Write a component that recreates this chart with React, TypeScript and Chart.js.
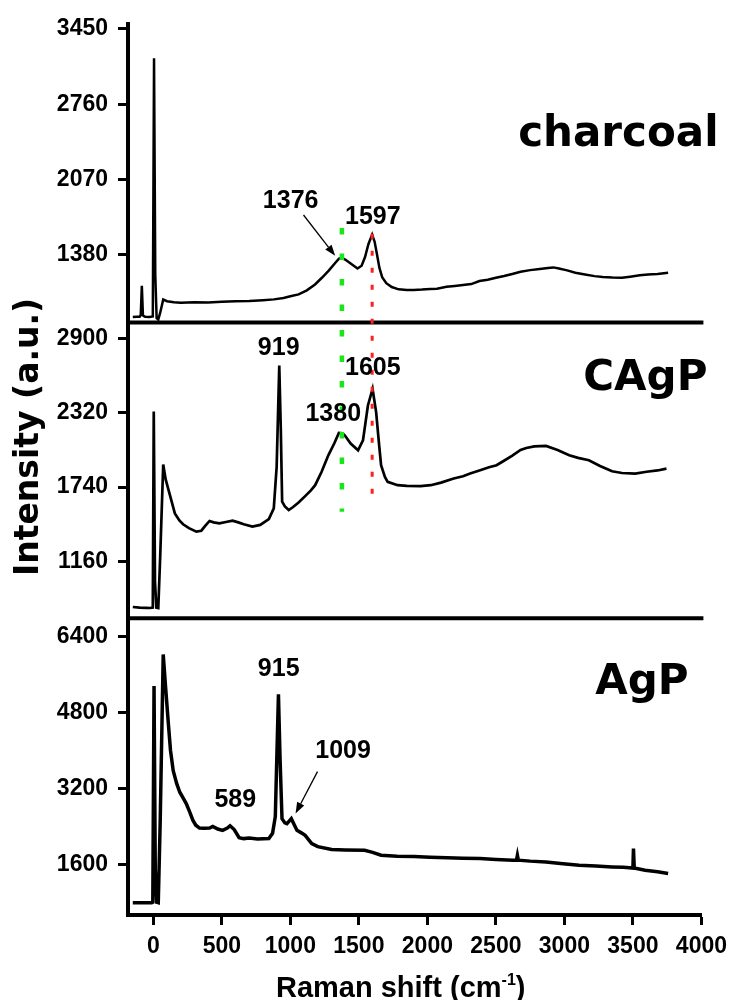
import React, { useEffect, useRef } from 'react';
import { Chart, registerables } from 'chart.js';

Chart.register(...registerables);

// ---------- tick labels ----------
const X_TICKS = [0, 500, 1000, 1500, 2000, 2500, 3000, 3500, 4000];
const Y1_TICKS = [1380, 2070, 2760, 3450];
const Y2_TICKS = [1160, 1740, 2320, 2900];
const Y3_TICKS = [1600, 3200, 4800, 6400];

// ---------- charcoal spectrum ----------
const CHARCOAL_X = [-150, -120, -100, -92, -84, -76, -60, -30, -4, 5, 14, 24, 36, 50, 72, 100, 150, 200, 300, 400, 500, 600, 700, 800, 880, 950, 1000, 1060, 1120, 1180, 1230, 1280, 1330, 1355, 1376, 1400, 1440, 1490, 1520, 1545, 1570, 1597, 1615, 1630, 1650, 1670, 1700, 1740, 1790, 1850, 1900, 1960, 2020, 2070, 2140, 2200, 2260, 2320, 2380, 2440, 2500, 2560, 2620, 2680, 2750, 2820, 2880, 2920, 2960, 3020, 3080, 3150, 3220, 3280, 3350, 3420, 3480, 3550, 3610, 3680, 3757];
const CHARCOAL_Y = [810, 812, 812, 830, 1097, 825, 812, 810, 815, 3180, 1200, 800, 787, 850, 970, 955, 945, 942, 945, 944, 950, 955, 958, 965, 972, 985, 1000, 1018, 1055, 1109, 1170, 1235, 1310, 1345, 1353, 1337, 1300, 1255, 1280, 1360, 1480, 1565, 1500, 1400, 1260, 1175, 1120, 1085, 1064, 1058, 1058, 1062, 1068, 1070, 1088, 1095, 1103, 1112, 1140, 1152, 1170, 1186, 1205, 1225, 1240, 1250, 1260, 1265, 1255, 1238, 1216, 1200, 1185, 1177, 1172, 1170, 1180, 1192, 1200, 1205, 1216];

// ---------- CAgP spectrum ----------
const CAGP_X = [-150, -100, -50, -24, -4, 3, 12, 22, 36, 50, 72, 90, 121, 157, 190, 217, 260, 314, 350, 380, 410, 440, 482, 530, 578, 620, 660, 723, 780, 843, 879, 900, 919, 930, 940, 960, 988, 1020, 1060, 1108, 1150, 1181, 1228, 1277, 1320, 1354, 1380, 1397, 1440, 1494, 1530, 1566, 1600, 1626, 1645, 1662, 1690, 1710, 1783, 1850, 1950, 2024, 2100, 2192, 2260, 2312, 2385, 2450, 2505, 2553, 2620, 2680, 2722, 2780, 2866, 2950, 3035, 3100, 3179, 3260, 3348, 3420, 3517, 3600, 3680, 3745];
const CAGP_Y = [805, 800, 798, 797, 800, 2330, 1000, 800, 797, 1200, 1916, 1800, 1678, 1535, 1480, 1450, 1420, 1393, 1400, 1440, 1476, 1465, 1457, 1468, 1478, 1465, 1450, 1432, 1445, 1490, 1574, 1900, 2688, 2200, 1626, 1590, 1561, 1585, 1620, 1670, 1715, 1755, 1860, 1988, 2080, 2162, 2160, 2144, 2080, 2027, 2105, 2377, 2506, 2325, 2100, 1911, 1820, 1781, 1755, 1750, 1748, 1755, 1775, 1807, 1825, 1846, 1872, 1895, 1911, 1942, 1985, 2030, 2045, 2058, 2061, 2030, 1988, 1968, 1950, 1905, 1864, 1850, 1846, 1860, 1870, 1884];

// ---------- AgP spectrum ----------
const AGP_X = [-150, -100, -50, -12, -4, 5, 14, 24, 36, 50, 72, 90, 108, 125, 145, 170, 193, 220, 241, 265, 289, 310, 337, 370, 410, 434, 470, 506, 540, 560, 590, 626, 660, 699, 760, 843, 870, 890, 913, 925, 939, 960, 975, 1007, 1030, 1048, 1080, 1108, 1156, 1200, 1301, 1400, 1542, 1600, 1662, 1780, 1903, 2020, 2144, 2260, 2385, 2500, 2626, 2650, 2657, 2664, 2750, 2866, 2990, 3107, 3230, 3348, 3430, 3500, 3504, 3510, 3589, 3680, 3757];
const AGP_Y = [789, 789, 789, 789, 800, 5352, 1500, 800, 789, 2500, 6016, 5300, 4618, 4000, 3570, 3300, 3115, 2980, 2872, 2700, 2522, 2420, 2360, 2355, 2360, 2396, 2340, 2313, 2360, 2410, 2330, 2160, 2139, 2150, 2130, 2139, 2250, 2600, 5178, 3800, 2558, 2470, 2453, 2558, 2420, 2313, 2260, 2208, 2034, 1970, 1908, 1900, 1893, 1850, 1789, 1770, 1760, 1745, 1735, 1728, 1719, 1700, 1684, 1684, 1789, 1684, 1665, 1648, 1610, 1579, 1560, 1543, 1535, 1520, 1929, 1520, 1474, 1440, 1405];

// ---------- annotations (data coordinates) ----------
const PEAK_LABELS = [
  { text: '1376', axis: 'y1', x: 1002, y: 1873 },
  { text: '1597', axis: 'y1', x: 1602, y: 1727 },
  { text: '919', axis: 'y2', x: 915, y: 2822 },
  { text: '1605', axis: 'y2', x: 1602, y: 2667 },
  { text: '1380', axis: 'y2', x: 1313, y: 2309 },
  { text: '915', axis: 'y3', x: 915, y: 5708 },
  { text: '1009', axis: 'y3', x: 1385, y: 3989 },
  { text: '589', axis: 'y3', x: 598, y: 2941 },
];
const PANEL_LABELS = [
  { text: 'charcoal', axis: 'y1', x: 4125, y: 2374 },
  { text: 'CAgP', axis: 'y2', x: 4044, y: 2496 },
  { text: 'AgP', axis: 'y3', x: 3906, y: 5184 },
];
const ARROWS = [
  { axis: 'y1', x1: 1096, y1: 1745, x2: 1327, y2: 1371 },
  { axis: 'y3', x1: 1198, y1: 3549, x2: 1038, y2: 2669 },
];
const GUIDES = [
  { x: 1376, fromAxis: 'y1', from: 1626, toAxis: 'y2', to: 1548, color: '#19e619', width: 4.5, dash: [6.5, 19] },
  { x: 1597, fromAxis: 'y1', from: 1572, toAxis: 'y2', to: 1680, color: '#ff1f1f', width: 3, dash: [5, 12] },
];

const TICK_FONT = { family: '"Liberation Sans", Arial, sans-serif', size: 23, weight: 'bold' as const };

const overlay = {
  id: 'ramanOverlay',
  afterDraw(chart: any) {
    const { ctx, chartArea: ca, scales } = chart;
    const X = scales.x;
    ctx.save();
    // panel separators
    ctx.strokeStyle = '#000';
    ctx.lineWidth = 4;
    ctx.setLineDash([]);
    ['y1', 'y2'].forEach((id) => {
      const yy = scales[id].bottom;
      ctx.beginPath();
      ctx.moveTo(ca.left - 2, yy);
      ctx.lineTo(ca.right + 2, yy);
      ctx.stroke();
    });
    // dashed guide lines
    GUIDES.forEach((g) => {
      const px = X.getPixelForValue(g.x);
      ctx.strokeStyle = g.color;
      ctx.lineWidth = g.width;
      ctx.setLineDash(g.dash);
      ctx.beginPath();
      ctx.moveTo(px, scales[g.fromAxis].getPixelForValue(g.from));
      ctx.lineTo(px, scales[g.toAxis].getPixelForValue(g.to));
      ctx.stroke();
    });
    ctx.setLineDash([]);
    // arrows
    ARROWS.forEach((a) => {
      const Y = scales[a.axis];
      const x1 = X.getPixelForValue(a.x1), y1 = Y.getPixelForValue(a.y1);
      const x2 = X.getPixelForValue(a.x2), y2 = Y.getPixelForValue(a.y2);
      const ang = Math.atan2(y2 - y1, x2 - x1);
      const hl = 11, hw = 4;
      const bx = x2 - hl * Math.cos(ang), by = y2 - hl * Math.sin(ang);
      ctx.strokeStyle = '#000';
      ctx.lineWidth = 1.3;
      ctx.beginPath();
      ctx.moveTo(x1, y1);
      ctx.lineTo(bx, by);
      ctx.stroke();
      ctx.fillStyle = '#000';
      ctx.beginPath();
      ctx.moveTo(x2, y2);
      ctx.lineTo(bx + hw * Math.sin(ang), by - hw * Math.cos(ang));
      ctx.lineTo(bx - hw * Math.sin(ang), by + hw * Math.cos(ang));
      ctx.closePath();
      ctx.fill();
    });
    // peak labels
    ctx.fillStyle = '#000';
    ctx.font = 'bold 25px "Liberation Sans", Arial, sans-serif';
    ctx.textAlign = 'center';
    ctx.textBaseline = 'middle';
    PEAK_LABELS.forEach((l) => {
      ctx.fillText(l.text, X.getPixelForValue(l.x), scales[l.axis].getPixelForValue(l.y));
    });
    // panel labels
    ctx.font = 'bold 42px "DejaVu Sans", sans-serif';
    ctx.textAlign = 'right';
    ctx.textBaseline = 'alphabetic';
    PANEL_LABELS.forEach((l) => {
      ctx.fillText(l.text, X.getPixelForValue(l.x), scales[l.axis].getPixelForValue(l.y));
    });
    // y title
    ctx.save();
    ctx.translate(38, 437);
    ctx.rotate(-Math.PI / 2);
    ctx.font = 'bold 33px "DejaVu Sans", sans-serif';
    ctx.textAlign = 'center';
    ctx.textBaseline = 'alphabetic';
    ctx.fillText('Intensity (a.u.)', 0, 0);
    ctx.restore();
    // x title with superscript
    const main = 'Raman shift (cm';
    const sup = '-1';
    const end = ')';
    const mainFont = 'bold 29px "Liberation Sans", Arial, sans-serif';
    const supFont = 'bold 16px "Liberation Sans", Arial, sans-serif';
    ctx.font = mainFont;
    const w1 = ctx.measureText(main).width;
    const w3 = ctx.measureText(end).width;
    ctx.font = supFont;
    const w2 = ctx.measureText(sup).width;
    const cx = (ca.left + ca.right) / 2 - 14;
    const base = 997;
    let sx = cx - (w1 + w2 + w3) / 2;
    ctx.textAlign = 'left';
    ctx.font = mainFont;
    ctx.fillText(main, sx, base);
    sx += w1;
    ctx.font = supFont;
    ctx.fillText(sup, sx, base - 12);
    sx += w2;
    ctx.font = mainFont;
    ctx.fillText(end, sx, base);
    ctx.restore();
  },
};

function pts(xs: number[], ys: number[]) {
  return xs.map((x, i) => ({ x, y: ys[i] }));
}

function yAxis(ticks: number[], min: number, max: number, stackWeight: number, weight: number) {
  return {
    type: 'linear' as const,
    position: 'left' as const,
    stack: 'panels',
    stackWeight,
    weight,
    min,
    max,
    afterBuildTicks: (s: any) => {
      s.ticks = ticks.map((v) => ({ value: v }));
    },
    afterFit: (s: any) => {
      s.width = 128;
    },
    ticks: {
      font: TICK_FONT,
      color: '#000',
      padding: 10,
      autoSkip: false,
      callback: (v: any) => String(v),
    },
    grid: {
      display: true,
      drawOnChartArea: false,
      drawTicks: true,
      tickLength: 10,
      tickWidth: 3,
      tickColor: '#000',
    },
    border: { display: true, width: 4, color: '#000' },
  };
}

export default function App() {
  const ref = useRef<HTMLCanvasElement | null>(null);
  useEffect(() => {
    if (!ref.current) return;
    const line = { borderColor: '#000', pointRadius: 0, tension: 0, fill: false };
    const chart = new Chart(ref.current, {
      type: 'line',
      data: {
        datasets: [
          { ...line, label: 'charcoal', data: pts(CHARCOAL_X, CHARCOAL_Y), yAxisID: 'y1', borderWidth: 2.5 },
          { ...line, label: 'CAgP', data: pts(CAGP_X, CAGP_Y), yAxisID: 'y2', borderWidth: 2.7 },
          { ...line, label: 'AgP', data: pts(AGP_X, AGP_Y), yAxisID: 'y3', borderWidth: 3.5 },
        ],
      },
      options: {
        responsive: false,
        animation: false,
        layout: { padding: { top: 20, right: 28, left: 0, bottom: 0 } },
        plugins: { legend: { display: false }, tooltip: { enabled: false } },
        scales: {
          x: {
            type: 'linear',
            position: 'bottom',
            min: -185,
            max: 4000,
            afterBuildTicks: (s: any) => {
              s.ticks = X_TICKS.map((v) => ({ value: v }));
            },
            afterFit: (s: any) => {
              s.height = 85;
            },
            ticks: {
              font: TICK_FONT,
              color: '#000',
              padding: 8,
              maxRotation: 0,
              autoSkip: false,
              callback: (v: any) => String(v),
            },
            grid: {
              display: true,
              drawOnChartArea: false,
              drawTicks: true,
              tickLength: 10,
              tickWidth: 3,
              tickColor: '#000',
            },
            border: { display: true, width: 4, color: '#000' },
          },
          y1: yAxis(Y1_TICKS, 760, 3496, 300, 3),
          y2: yAxis(Y2_TICKS, 717, 3024, 297, 2),
          y3: yAxis(Y3_TICKS, 531, 6777, 298, 1),
        } as any,
      },
      plugins: [overlay],
    });
    return () => chart.destroy();
  }, []);
  return (
    <div style={{ position: 'fixed', left: 0, top: 0, width: 735, height: 1000, background: '#fff' }}>
      <canvas ref={ref} width={735} height={1000} style={{ display: 'block' }} />
    </div>
  );
}
